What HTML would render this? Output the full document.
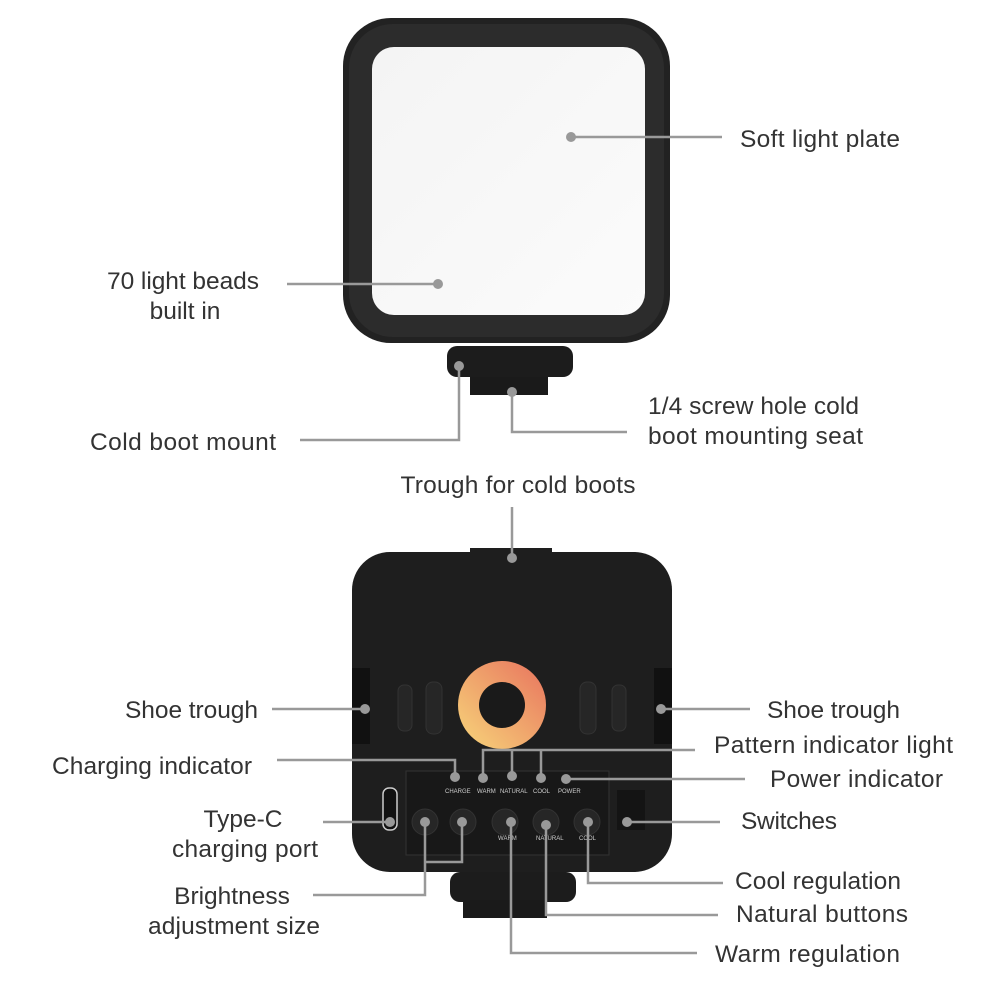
<!DOCTYPE html>
<html><head><style>
body{margin:0;background:#fff;}
svg{display:block}
text{font-family:"Liberation Sans",sans-serif;font-size:24.5px;fill:#333;}
.s{font-size:6px;fill:#ccc}
</style></head><body>
<svg width="1000" height="1000" viewBox="0 0 1000 1000">
<defs>
<linearGradient id="ring" x1="0" y1="1" x2="1" y2="0">
<stop offset="0" stop-color="#f7d67a"/><stop offset="1" stop-color="#e8735e"/>
</linearGradient>
<linearGradient id="plate" x1="0" y1="0" x2="1" y2="1">
<stop offset="0" stop-color="#f4f4f4"/><stop offset="1" stop-color="#fbfbfb"/>
</linearGradient>
</defs>
<!-- top device -->
<rect x="343" y="18" width="327" height="325" rx="48" fill="#222"/>
<rect x="349" y="24" width="315" height="313" rx="44" fill="#2c2c2c"/>
<rect x="372" y="47" width="273" height="268" rx="22" fill="url(#plate)"/>
<rect x="447" y="346" width="126" height="31" rx="10" fill="#1c1c1c"/>
<rect x="470" y="377" width="78" height="18" fill="#1a1a1a"/>
<!-- bottom device -->
<rect x="352" y="552" width="320" height="320" rx="38" fill="#1e1e1e"/>
<rect x="470" y="548" width="82" height="18" fill="#1e1e1e"/>
<rect x="352" y="668" width="18" height="76" fill="#111"/>
<rect x="654" y="668" width="18" height="76" fill="#111"/>
<rect x="398" y="685" width="14" height="46" rx="6" fill="#262626" stroke="#333"/>
<rect x="426" y="682" width="16" height="52" rx="7" fill="#262626" stroke="#333"/>
<rect x="580" y="682" width="16" height="52" rx="7" fill="#262626" stroke="#333"/>
<rect x="612" y="685" width="14" height="46" rx="6" fill="#262626" stroke="#333"/>
<circle cx="502" cy="705" r="44" fill="url(#ring)"/>
<circle cx="502" cy="705" r="23" fill="#1a1a1a"/>
<rect x="406" y="771" width="203" height="84" fill="#181818" stroke="#333"/>
<rect x="383" y="788" width="14" height="42" rx="6" fill="#111" stroke="#ccc" stroke-width="1.5"/>
<rect x="617" y="790" width="28" height="40" fill="#141414"/>
<g fill="#262626" stroke="#333">
<circle cx="425" cy="822" r="13"/><circle cx="463" cy="822" r="13"/><circle cx="505" cy="822" r="13"/><circle cx="546" cy="822" r="13"/><circle cx="587" cy="822" r="13"/>
</g>
<text class="s" x="445" y="793">CHARGE</text><text class="s" x="477" y="793">WARM</text><text class="s" x="500" y="793">NATURAL</text><text class="s" x="533" y="793">COOL</text><text class="s" x="558" y="793">POWER</text>
<text class="s" x="498" y="840">WARM</text><text class="s" x="536" y="840">NATURAL</text><text class="s" x="579" y="840">COOL</text>
<rect x="450" y="872" width="126" height="30" rx="10" fill="#1c1c1c"/>
<rect x="463" y="900" width="84" height="18" fill="#1a1a1a"/>
<!-- leaders -->
<g stroke="#999" stroke-width="2.5" fill="none">
<path d="M571 137H722"/><path d="M287 284H438"/>
<path d="M300 440H459V367"/><path d="M512 392V432H627"/>
<path d="M512 507V558"/>
<path d="M272 709H365"/><path d="M661 709H750"/>
<path d="M277 760H455V776"/>
<path d="M483 778V750H541V778M512 750V776M541 750H695"/>
<path d="M566 779H745"/>
<path d="M627 822H720"/><path d="M323 822H390"/>
<path d="M462 822V862H425M425 822V895H313"/>
<path d="M588 822V883H723"/>
<path d="M546 825V915H718"/>
<path d="M511 822V953H697"/>
</g>
<g fill="#999">
<circle cx="571" cy="137" r="5"/><circle cx="438" cy="284" r="5"/><circle cx="459" cy="366" r="5"/><circle cx="512" cy="392" r="5"/>
<circle cx="512" cy="558" r="5"/><circle cx="365" cy="709" r="5"/><circle cx="661" cy="709" r="5"/>
<circle cx="455" cy="777" r="5"/><circle cx="483" cy="778" r="5"/><circle cx="512" cy="776" r="5"/><circle cx="541" cy="778" r="5"/><circle cx="566" cy="779" r="5"/>
<circle cx="627" cy="822" r="5"/><circle cx="390" cy="822" r="5"/><circle cx="425" cy="822" r="5"/><circle cx="462" cy="822" r="5"/>
<circle cx="511" cy="822" r="5"/><circle cx="546" cy="825" r="5"/><circle cx="588" cy="822" r="5"/>
</g>
<!-- labels -->
<text x="740" y="147" textLength="160">Soft light plate</text>
<text x="183" y="289" text-anchor="middle" textLength="152">70 light beads</text>
<text x="185" y="319" text-anchor="middle">built in</text>
<text x="90" y="450" textLength="186">Cold boot mount</text>
<text x="648" y="414" textLength="211">1/4 screw hole cold</text>
<text x="648" y="444" textLength="215">boot mounting seat</text>
<text x="518" y="493" text-anchor="middle" textLength="235">Trough for cold boots</text>
<text x="125" y="718" textLength="133">Shoe trough</text>
<text x="767" y="718" textLength="133">Shoe trough</text>
<text x="52" y="774" textLength="200">Charging indicator</text>
<text x="714" y="753" textLength="239">Pattern indicator light</text>
<text x="770" y="787" textLength="173">Power indicator</text>
<text x="741" y="829" textLength="96">Switches</text>
<text x="243" y="827" text-anchor="middle">Type-C</text>
<text x="245" y="857" text-anchor="middle" textLength="146">charging port</text>
<text x="232" y="904" text-anchor="middle">Brightness</text>
<text x="234" y="934" text-anchor="middle" textLength="172">adjustment size</text>
<text x="735" y="889" textLength="166">Cool regulation</text>
<text x="736" y="922" textLength="172">Natural buttons</text>
<text x="715" y="962" textLength="185">Warm regulation</text>
</svg>
</body></html>
